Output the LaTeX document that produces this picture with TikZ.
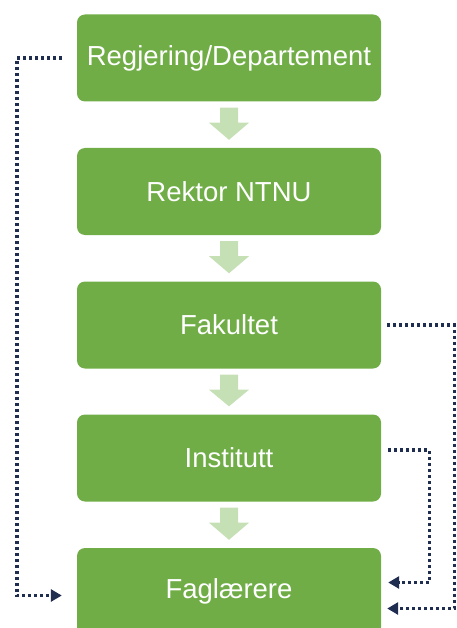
\documentclass[tikz,border=0pt]{standalone}
\usepackage{fontspec}
\setmainfont{Liberation Sans}
\usetikzlibrary{calc,arrows.meta}
\definecolor{boxgreen}{HTML}{70AD47}
\definecolor{lightgreen}{HTML}{C5E0B4}
\definecolor{navy}{HTML}{1F2D50}
\tikzset{
	box/.style={fill=boxgreen, rounded corners=8pt, minimum width=304pt, minimum height=87pt, text=white, font=\fontsize{27.5}{32}\selectfont},
	feedback/.style={navy, line width=3.4pt, dash pattern=on 3pt off 3pt, -{Triangle[length=11pt,width=12pt]}}
}
\newcommand{\blockdown}[2]{%
	\fill[lightgreen] ($(#1.south)+(-9,6)$) -- ($(#1.south)+(9,6)$) -- ($(#1.south)+(9,21)$) -- ($(#1.south)+(20,21)$) -- ($(#2.north)+(0,-8)$) -- ($(#1.south)+(-20,21)$) -- ($(#1.south)+(-9,21)$) -- cycle;}
\begin{document}
\begin{tikzpicture}[x=1pt,y=-1pt]
				\useasboundingbox (0,0) rectangle (456,628);
				\clip (0,0) rectangle (456,628);
				\node[box] (reg) at (229,58) {Regjering/Departement};
				\node[box] (rek) at (229,191.5) {Rektor NTNU};
				\node[box] (fak) at (229,325) {Fakultet};
				\node[box] (inst) at (229,458) {Institutt};
				\node[box] (fag) at (229,591.5) {Faglærere};
				
				\blockdown{reg}{rek}
				\blockdown{rek}{fak}
				\blockdown{fak}{inst}
				\blockdown{inst}{fag}
				
				\draw[feedback] ($(reg.west)+(-15,0)$) -| ($(fag.west)+(-60,4)$) -- ($(fag.west)+(-15,4)$);
				\draw[feedback] ($(fak.east)+(6,0)$) -| ($(fag.east)+(73,17)$) -- ($(fag.east)+(6,17)$);
				\draw[feedback] ($(inst.east)+(7,-8)$) -| ($(fag.east)+(48,-9)$) -- ($(fag.east)+(7,-9)$);
			\end{tikzpicture}
\end{document}
